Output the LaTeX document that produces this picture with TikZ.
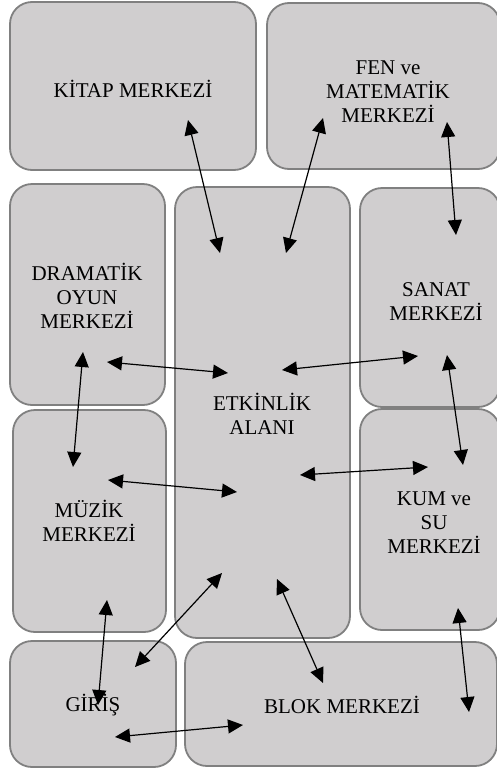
\documentclass[tikz,border=0pt]{standalone}
\usepackage{fontspec}
\setmainfont{Liberation Serif}
\usetikzlibrary{arrows.meta}
\definecolor{boxfill}{HTML}{D0CECF}
\definecolor{boxdraw}{HTML}{808080}
\tikzset{
  area/.style={draw=boxdraw, fill=boxfill, line width=1.8pt, rounded corners=22pt, inner sep=0pt},
  lbl/.style={align=center, inner sep=0pt, font=\fontsize{21}{24}\selectfont},
  arr/.style={{Triangle[length=15pt,width=14pt]}-{Triangle[length=15pt,width=14pt]}, line width=1.2pt, black},
}
\newcommand{\areabox}[5]{%
  \node[area, minimum width={(#4-#2)*1pt}, minimum height={(#5-#3)*1pt}] (#1) at ({(#2+#4)/2},{(#3+#5)/2}) {};}
\begin{document}
\begin{tikzpicture}[x=1pt,y=-1pt]
\useasboundingbox (0,0) rectangle (497,769);
\clip (0,0) rectangle (497,769);
% areas
\areabox{kitap}{10}{2}{256}{170}
\areabox{fen}{267}{3}{500}{169}
\areabox{drama}{10}{184}{165}{405}
\areabox{etk}{175}{187}{350}{638}
\areabox{sanat}{360}{188}{500}{407}
\areabox{muzik}{13}{410}{166}{632}
\areabox{kum}{360}{409}{500}{630}
\areabox{giris}{10}{641}{176}{767}
\areabox{blok}{185}{642}{497}{766}
% labels
\node[lbl] (kitapT) at (133,89) {KİTAP MERKEZİ};
\node[lbl] (fenT) at (388,92) {FEN ve\\MATEMATİK\\MERKEZİ};
\node[lbl] (dramaT) at (87,296) {DRAMATİK\\OYUN\\MERKEZİ};
\node[lbl] (sanatT) at (436,302) {SANAT\\MERKEZİ};
\node[lbl] (etkT) at (262,414) {ETKİNLİK\\ALANI};
\node[lbl] (muzikT) at (89,521) {MÜZİK\\MERKEZİ};
\node[lbl] (kumT) at (434,523) {KUM ve\\SU\\MERKEZİ};
\node[lbl] (girisT) at (93,705) {GİRİŞ};
\node[lbl] (blokT) at (342,705) {BLOK MERKEZİ};
% connector ends
\coordinate (a1) at (188,120);  \coordinate (b1) at (220,253);
\coordinate (a2) at (323,118);  \coordinate (b2) at (286,253);
\coordinate (a3) at (447,122);  \coordinate (b3) at (456,235);
\coordinate (a4) at (107,362);  \coordinate (b4) at (228,373);
\coordinate (a5) at (282,370);  \coordinate (b5) at (418,356);
\coordinate (a6) at (83,352);   \coordinate (b6) at (73,467);
\coordinate (a7) at (447,355);  \coordinate (b7) at (463,465);
\coordinate (a8) at (108,480);  \coordinate (b8) at (237,492);
\coordinate (a9) at (300,475);  \coordinate (b9) at (428,467);
\coordinate (a10) at (107,600); \coordinate (b10) at (98,705);
\coordinate (a11) at (222,573); \coordinate (b11) at (135,667);
\coordinate (a12) at (277,579); \coordinate (b12) at (323,683);
\coordinate (a13) at (458,608); \coordinate (b13) at (469,712);
\coordinate (a14) at (115,737); \coordinate (b14) at (243,725);
\foreach \i in {1,...,14}{\draw[arr] (a\i) -- (b\i);}
\end{tikzpicture}
\end{document}
